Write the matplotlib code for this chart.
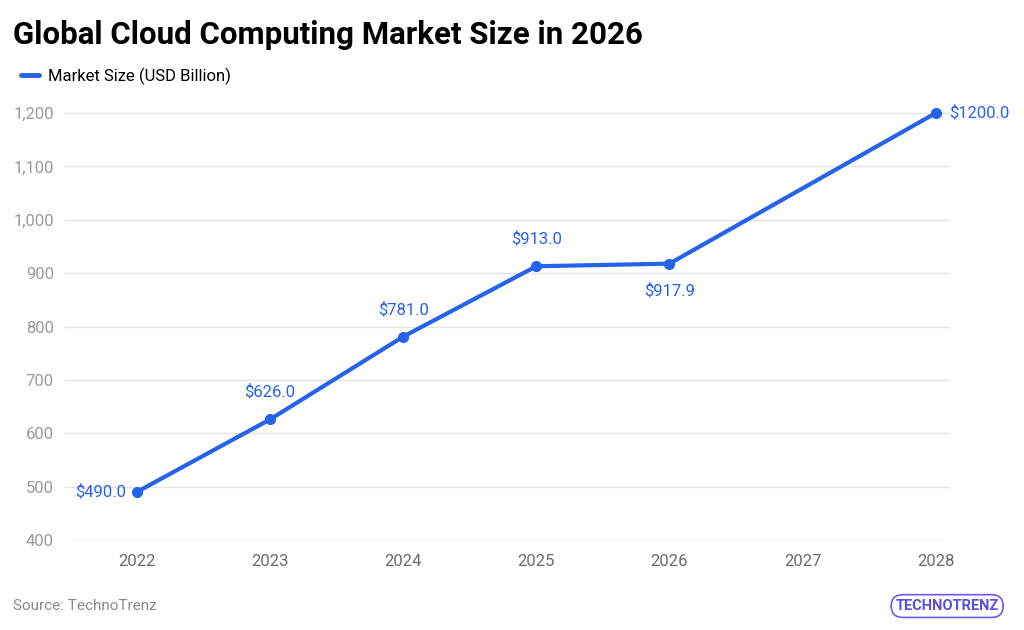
import matplotlib

matplotlib.use("Agg")

import matplotlib.pyplot as plt
import numpy as np

plt.rcParams["font.family"] = ["Roboto", "DejaVu Sans"]

# data
years = [2022, 2023, 2024, 2025, 2026, 2028]
market_size = [490.0, 626.0, 781.0, 913.0, 917.9, 1200.0]
label_pos = ["left", "above", "above", "above", "below", "right"]
tick_years = [2022, 2023, 2024, 2025, 2026, 2027, 2028]
y_ticks = [400, 500, 600, 700, 800, 900, 1000, 1100, 1200]

BLUE = "#2563eb"

fig = plt.figure(figsize=(10.24, 6.3), dpi=100)
ax = fig.add_axes([0.0635, 0.1429, 0.8645, 0.686])

ax.plot(years, market_size, color=BLUE, lw=3, marker="o", ms=7,
        solid_capstyle="round", clip_on=False, zorder=3,
        label="Market Size (USD Billion)")

offsets = {"left": (-8, 0, "right", "center"),
           "right": (10, 0, "left", "center"),
           "above": (0, 14, "center", "bottom"),
           "below": (0, -14, "center", "top")}
for x, y, pos in zip(years, market_size, label_pos):
    dx, dy, ha, va = offsets[pos]
    ax.annotate(f"${y:.1f}", (x, y), xytext=(dx, dy), textcoords="offset points",
                ha=ha, va=va, color=BLUE, fontsize=12)

ax.set_xlim(2021.46, 2028.11)
ax.set_ylim(400, 1210)
ax.set_xticks(tick_years)
ax.set_yticks(y_ticks)
ax.set_yticklabels([f"{v:,}" for v in y_ticks])
ax.tick_params(axis="both", length=0, labelsize=12)
ax.tick_params(axis="x", pad=10, labelcolor="#6b6b6b")
ax.tick_params(axis="y", pad=8, labelcolor="#9a9a9a")
ax.grid(axis="y", color="#e3e3e3", lw=1)
ax.set_axisbelow(True)
for s in ax.spines.values():
    s.set_visible(False)

fig.text(0.013, 0.945, "Global Cloud Computing Market Size in 2026",
         fontsize=22.5, fontweight="bold", va="center", ha="left")
leg = fig.legend(loc="center left", bbox_to_anchor=(0.006, 0.879), frameon=False,
                 fontsize=12, handlelength=1.1, handletextpad=0.5)
for h in leg.get_lines():
    h.set_marker("")
    h.set_linewidth(3.5)

fig.text(0.013, 0.038, "Source: TechnoTrenz", fontsize=11, color="#8a8a8a",
         va="center", ha="left")
fig.text(0.925, 0.038, "TECHNOTRENZ", fontsize=10.5, color="#5b4fe0",
         fontweight="bold", va="center", ha="center",
         bbox=dict(boxstyle="round,pad=0.3,rounding_size=0.8", fc="white",
                   ec="#6a5cf0", lw=1.2))

fig.savefig("out.png", dpi=100)
